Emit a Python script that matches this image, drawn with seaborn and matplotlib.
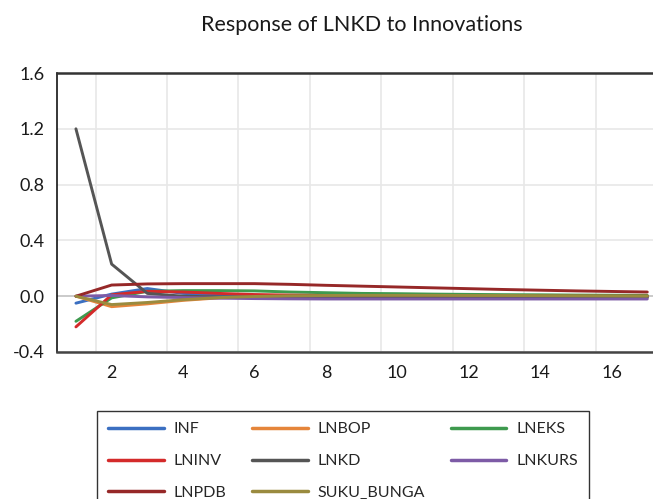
import numpy as np
import pandas as pd
import matplotlib.pyplot as plt
import seaborn as sns
from matplotlib.ticker import FixedLocator

# Response of LNKD to Innovations (impulse responses, 17 periods)
periods = list(range(1, 18))
inf = [-0.05, 0.015, 0.055, 0.02, 0.01, 0.005, 0.002, 0.0, -0.002, -0.003, -0.004, -0.004, -0.005, -0.005, -0.005, -0.005, -0.005]
lnbop = [0.0, -0.075, -0.055, -0.03, -0.012, -0.005, 0.0, 0.002, 0.003, 0.003, 0.003, 0.003, 0.003, 0.002, 0.002, 0.002, 0.002]
lneks = [-0.18, -0.012, 0.035, 0.04, 0.04, 0.038, 0.03, 0.025, 0.02, 0.018, 0.015, 0.013, 0.011, 0.01, 0.008, 0.007, 0.006]
lninv = [-0.22, 0.01, 0.035, 0.03, 0.02, 0.012, 0.008, 0.005, 0.003, 0.002, 0.001, 0.0, 0.0, 0.0, 0.0, 0.0, 0.0]
lnkd = [1.2, 0.23, 0.02, 0.0, -0.005, -0.008, -0.01, -0.01, -0.01, -0.01, -0.01, -0.01, -0.01, -0.01, -0.01, -0.01, -0.01]
lnkurs = [0.0, 0.005, -0.005, -0.01, -0.014, -0.017, -0.019, -0.02, -0.02, -0.02, -0.02, -0.02, -0.02, -0.02, -0.02, -0.02, -0.02]
lnpdb = [0.0, 0.08, 0.088, 0.09, 0.09, 0.09, 0.085, 0.078, 0.072, 0.066, 0.06, 0.054, 0.048, 0.043, 0.038, 0.034, 0.03]
suku_bunga = [0.0, -0.06, -0.045, -0.025, -0.01, -0.002, 0.003, 0.005, 0.006, 0.006, 0.006, 0.005, 0.005, 0.004, 0.003, 0.002, 0.001]

names = ['INF', 'LNBOP', 'LNEKS', 'LNINV', 'LNKD', 'LNKURS', 'LNPDB', 'SUKU_BUNGA']
series = [inf, lnbop, lneks, lninv, lnkd, lnkurs, lnpdb, suku_bunga]
colors = ['#3b6fc1', '#e5853a', '#3e9a4e', '#d42a2a', '#555555', '#7d5ba6', '#962828', '#9a8b3f']

x_ticks = [2, 4, 6, 8, 10, 12, 14, 16]
y_ticks = [-0.4, 0.0, 0.4, 0.8, 1.2, 1.6]

df = pd.DataFrame({
    'period': periods * len(names),
    'value': sum(series, []),
    'shock': np.repeat(names, len(periods)),
})

sns.set_style('white')
plt.rcParams['font.family'] = ['Lato', 'DejaVu Sans']

fig = plt.figure(figsize=(6.53, 4.99), dpi=100)
ax = fig.add_axes([57/653, 147/499, 596/653, 279/499])

sns.lineplot(data=df, x='period', y='value', hue='shock', hue_order=names,
             palette=colors, linewidth=2.1, ax=ax, legend=False)

ax.axhline(0, color='black', linewidth=1.1, zorder=0.5)
ax.set_xlim(0.47, 17.16)
ax.set_ylim(-0.4, 1.6)

ax.xaxis.set_major_locator(FixedLocator(x_ticks))
ax.yaxis.set_major_locator(FixedLocator(y_ticks))
ax.set_yticklabels(['%.1f' % v for v in y_ticks])
ax.xaxis.set_minor_locator(FixedLocator(np.arange(1.55, 17, 2)))
ax.grid(False)
ax.grid(True, which='minor', axis='x', color='#e8e8e8', linewidth=1.2)
ax.grid(True, which='major', axis='y', color='#e8e8e8', linewidth=1.2)
ax.tick_params(which='both', length=0, labelsize=13, colors='#1a1a1a')
ax.tick_params(axis='x', pad=9)
ax.tick_params(axis='y', pad=9)
ax.set_xlabel('')
ax.set_ylabel('')

ax.spines['right'].set_visible(False)
ax.spines['left'].set_color('black')
ax.spines['left'].set_linewidth(1.1)
ax.spines['top'].set_color('#333333')
ax.spines['top'].set_linewidth(1.8)
ax.spines['bottom'].set_color('#444444')
ax.spines['bottom'].set_linewidth(1.8)

fig.text(362/653, 1 - 25/499, 'Response of LNKD to Innovations', ha='center', va='center',
         fontsize=15.5, color='#1a1a1a')

# legend, filled column by column
order = ['INF', 'LNINV', 'LNPDB', 'LNBOP', 'LNKD', 'SUKU_BUNGA', 'LNEKS', 'LNKURS']
handles = [plt.Line2D([], [], color=colors[names.index(n)], linewidth=2.5) for n in order]
leg = fig.legend(handles, order, loc='upper left', bbox_to_anchor=(97/653, 1 - 411/499),
                 borderaxespad=0, ncol=3, fontsize=11.5, frameon=True, fancybox=False,
                 edgecolor='black', handlelength=3.5, handletextpad=0.6, columnspacing=1.6,
                 labelspacing=1.1, borderpad=0.7)
leg.get_frame().set_linewidth(1.0)

fig.savefig('out.png', dpi=100)
plt.close()
